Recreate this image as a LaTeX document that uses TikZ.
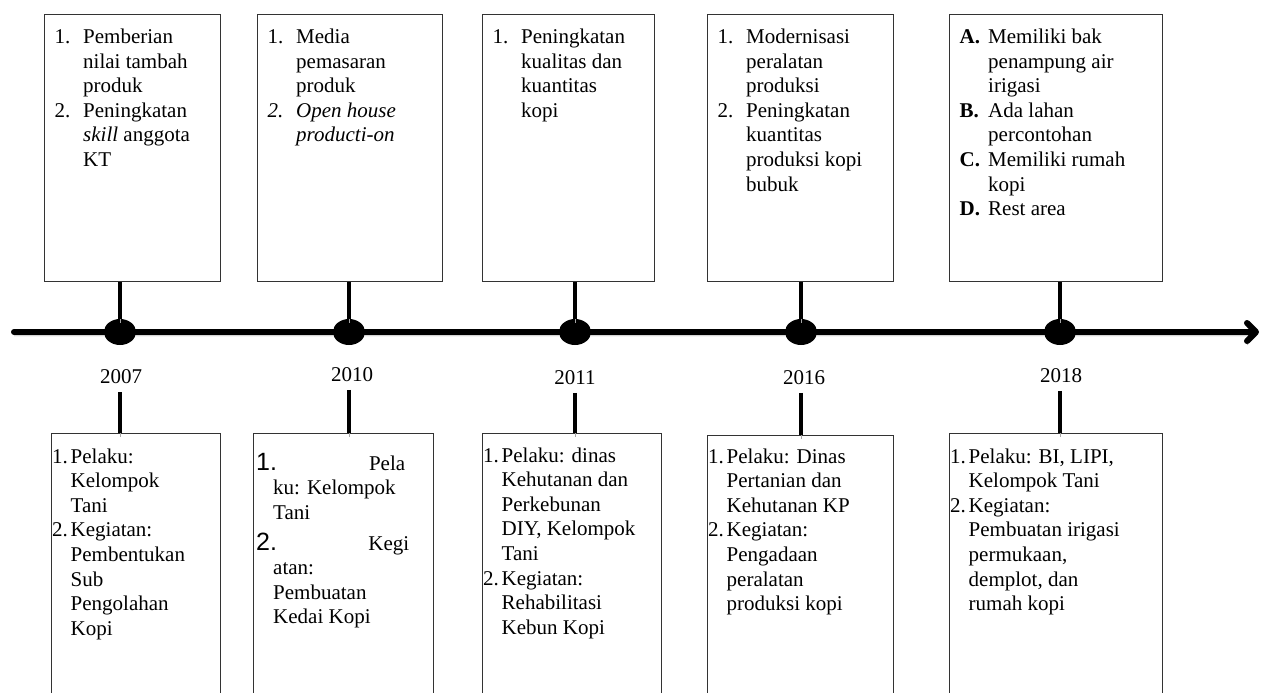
\documentclass[tikz,border=0pt]{standalone}
\usepackage{fontspec}
\setmainfont{Liberation Serif}
\newfontfamily\sansnum{Liberation Sans}
\usetikzlibrary{shapes.geometric}
\newcommand{\lab}[1]{\makebox[28.5pt][l]{#1}}
\newcommand{\ind}{\hspace*{28.5pt}}
\newcommand{\blab}[1]{\makebox[18.5pt][l]{#1}}
\newcommand{\bind}{\hspace*{18.5pt}}
\newcommand{\cell}[1]{\parbox[t]{260pt}{\raggedright #1}}
\begin{document}
\begin{tikzpicture}[x=1pt,y=-1pt,
  font=\fontsize{21}{24.6}\selectfont,
  box/.style={draw=black!80, line width=1pt, inner sep=0pt, anchor=north west},
  txt/.style={inner sep=0pt, anchor=base west},
  dot/.style={ellipse, fill=black, inner sep=0pt, minimum width=32pt, minimum height=26pt},
  shadowed/.style={preaction={draw=black!35, transform canvas={yshift=-4pt}}},
  stem/.style={line width=4pt, shadowed},
  year/.style={inner sep=0pt},
]
\useasboundingbox (0,0) rectangle (1261,693);
\fill[white] (0,0) rectangle (1261,693);
\clip (0,0) rectangle (1261,693);

% top boxes
\node[box, minimum width=176pt, minimum height=267pt] (t1) at (44,14) {};
\node[box, minimum width=185pt, minimum height=267pt] (t2) at (257,14) {};
\node[box, minimum width=172pt, minimum height=267pt] (t3) at (482,14) {};
\node[box, minimum width=186pt, minimum height=267pt] (t4) at (707,14) {};
\node[box, minimum width=213pt, minimum height=267pt] (t5) at (949,14) {};

\node[txt] (t1x) at ([xshift=10.5pt,yshift=-29.5pt]t1.north west) {\cell{%
\lab{1.}Pemberian\\ \ind nilai tambah\\ \ind produk\\
\lab{2.}Peningkatan\\ \ind\textit{skill} anggota\\ \ind KT}};
\node[txt] (t2x) at ([xshift=10.5pt,yshift=-29.5pt]t2.north west) {\cell{%
\lab{1.}Media\\ \ind pemasaran\\ \ind produk\\
\lab{\textit{2.}}\textit{Open house}\\ \ind\textit{producti-on}}};
\node[txt] (t3x) at ([xshift=10.5pt,yshift=-29.5pt]t3.north west) {\cell{%
\lab{1.}Peningkatan\\ \ind kualitas dan\\ \ind kuantitas\\ \ind kopi}};
\node[txt] (t4x) at ([xshift=10.5pt,yshift=-29.5pt]t4.north west) {\cell{%
\lab{1.}Modernisasi\\ \ind peralatan\\ \ind produksi\\
\lab{2.}Peningkatan\\ \ind kuantitas\\ \ind produksi kopi\\ \ind bubuk}};
\node[txt] (t5x) at ([xshift=10.5pt,yshift=-29.5pt]t5.north west) {\cell{%
\lab{\textbf{A.}}Memiliki bak\\ \ind penampung air\\ \ind irigasi\\
\lab{\textbf{B.}}Ada lahan\\ \ind percontohan\\
\lab{\textbf{C.}}Memiliki rumah\\ \ind kopi\\
\lab{\textbf{D.}}Rest area}};

% bottom boxes (run past the lower edge)
\node[box, minimum width=169pt, minimum height=300pt] (b1) at (51,433) {};
\node[box, minimum width=180pt, minimum height=300pt] (b2) at (253,433) {};
\node[box, minimum width=179pt, minimum height=300pt] (b3) at (482,433) {};
\node[box, minimum width=186pt, minimum height=300pt] (b4) at (707,435) {};
\node[box, minimum width=213pt, minimum height=300pt] (b5) at (949,433) {};

\node[txt] (b1x) at ([xshift=1pt,yshift=-30pt]b1.north west) {\cell{%
\blab{1.}Pelaku:\\ \bind Kelompok\\ \bind Tani\\
\blab{2.}Kegiatan:\\ \bind Pembentukan\\ \bind Sub\\ \bind Pengolahan\\ \bind Kopi}};
\node[txt] (b2x) at ([xshift=3pt,yshift=-37pt]b2.north west) {\cell{%
\makebox[149pt][l]{{\sansnum\fontsize{25}{24.6}\selectfont 1.}\hfill Pela}\\
\hspace*{17pt}ku: Kelompok\\ \hspace*{17pt}Tani\\[6.2pt]
\makebox[153pt][l]{{\sansnum\fontsize{25}{24.6}\selectfont 2.}\hfill Kegi}\\
\hspace*{17pt}atan:\\ \hspace*{17pt}Pembuatan\\ \hspace*{17pt}Kedai Kopi}};
\node[txt] (b3x) at ([xshift=1pt,yshift=-29pt]b3.north west) {\cell{%
\blab{1.}Pelaku: dinas\\ \bind Kehutanan dan\\ \bind Perkebunan\\ \bind DIY, Kelompok\\ \bind Tani\\
\blab{2.}Kegiatan:\\ \bind Rehabilitasi\\ \bind Kebun Kopi}};
\node[txt] (b4x) at ([xshift=1pt,yshift=-28pt]b4.north west) {\cell{%
\blab{1.}Pelaku: Dinas\\ \bind Pertanian dan\\ \bind Kehutanan KP\\
\blab{2.}Kegiatan:\\ \bind Pengadaan\\ \bind peralatan\\ \bind produksi kopi}};
\node[txt] (b5x) at ([xshift=1pt,yshift=-30pt]b5.north west) {\cell{%
\blab{1.}Pelaku: BI, LIPI,\\ \bind Kelompok Tani\\
\blab{2.}Kegiatan:\\ \bind Pembuatan irigasi\\ \bind permukaan,\\ \bind demplot, dan\\ \bind rumah kopi}};

% years
\node[year] (y1) at (121,377) {2007};
\node[year] (y2) at (352,374.5) {2010};
\node[year] (y3) at (575,377.5) {2011};
\node[year] (y4) at (804,377.5) {2016};
\node[year] (y5) at (1061,375.5) {2018};

% axis
\coordinate (a0) at (14,332);
\coordinate (a1) at (1256,332);
\coordinate (a2) at (1247,323);
\coordinate (a3) at (1247,341);
\draw[line width=6pt, line cap=round, line join=round, shadowed] (a0) -- (a1) (a2) -- (a1) -- (a3);

% dots
\node[dot] (d1) at (120,332) {};
\node[dot] (d2) at (349,332) {};
\node[dot] (d3) at (575,332) {};
\node[dot] (d4) at (801,332) {};
\node[dot] (d5) at (1060,332) {};

% top stems
\foreach \i in {1,...,5}{
  \draw[stem] (t\i.south -| d\i) -- (d\i);
}
% bottom stems
\foreach \i in {1,...,5}{
  \draw[stem] ([yshift=-8pt]d\i |- y\i.south) -- (d\i |- b\i.north);
}
\end{tikzpicture}
\end{document}
